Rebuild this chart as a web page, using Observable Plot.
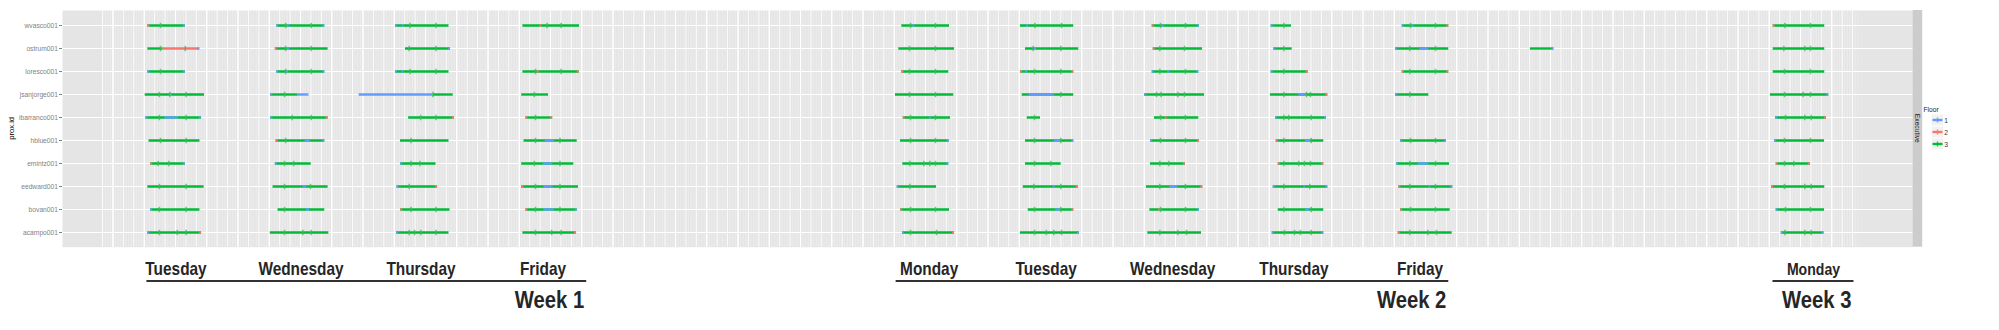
<!DOCTYPE html>
<html><head><meta charset="utf-8">
<script src="https://cdn.jsdelivr.net/npm/d3@7"></script>
<script src="https://cdn.jsdelivr.net/npm/@observablehq/plot@0.6"></script>
<style>body{margin:0;background:#fff;} svg{display:block;}</style>
</head><body><div id="chart"></div>
<script>
// ---------- data ----------
const people = ["wvasco001","ostrum001","loresco001","jsanjorge001","ibarranco001","hblue001","emintz001","eedward001","bovan001","acampo001"];
const floors = [1, 2, 3];
const floorColors = ["#619CFF", "#F8766D", "#00BA38"];
const facetLabel = "Executive";

// [id, day (2016-MM-DD), start hour, end hour, floor]
const segments = [
// Tue 31 May
["wvasco001","05-31",6.68,13.88,3],["wvasco001","05-31",6.68,7.08,2],["wvasco001","05-31",13.48,13.88,1],
["ostrum001","05-31",6.68,9.62,3],["ostrum001","05-31",9.62,16.61,2],["ostrum001","05-31",16.3,16.7,1],
["loresco001","05-31",6.68,13.88,3],["loresco001","05-31",6.68,7.08,1],["loresco001","05-31",13.48,13.88,1],
["jsanjorge001","05-31",6.18,17.57,3],["jsanjorge001","05-31",11.0,11.4,1],
["ibarranco001","05-31",6.32,17.0,3],["ibarranco001","05-31",6.32,6.72,1],["ibarranco001","05-31",9.93,12.58,1],["ibarranco001","05-31",16.6,17.0,1],
["hblue001","05-31",6.91,16.69,3],
["emintz001","05-31",7.2,13.88,3],["emintz001","05-31",7.2,7.6,2],["emintz001","05-31",13.48,13.88,1],
["eedward001","05-31",6.68,17.5,3],
["bovan001","05-31",7.2,16.69,3],["bovan001","05-31",7.2,7.6,1],
["acampo001","05-31",6.68,17.0,3],["acampo001","05-31",6.68,7.08,1],["acampo001","05-31",16.6,17.0,2],
// Wed 1 Jun
["wvasco001","06-01",7.45,16.66,3],["wvasco001","06-01",7.45,7.85,1],["wvasco001","06-01",9.46,9.86,1],["wvasco001","06-01",16.26,16.66,1],
["ostrum001","06-01",7.16,17.3,3],["ostrum001","06-01",7.16,7.56,2],["ostrum001","06-01",9.5,9.9,1],
["loresco001","06-01",7.45,16.66,3],["loresco001","06-01",7.45,7.85,1],["loresco001","06-01",9.3,9.7,1],["loresco001","06-01",16.26,16.66,1],
["jsanjorge001","06-01",6.28,11.42,3],["jsanjorge001","06-01",6.28,6.68,1],["jsanjorge001","06-01",11.42,13.63,1],
["ibarranco001","06-01",6.28,17.3,3],["ibarranco001","06-01",6.28,6.68,1],["ibarranco001","06-01",16.9,17.3,2],
["hblue001","06-01",7.3,16.66,3],["hblue001","06-01",7.3,7.7,2],["hblue001","06-01",12.88,13.92,1],["hblue001","06-01",16.26,16.66,1],
["emintz001","06-01",7.16,14.05,3],["emintz001","06-01",7.16,7.56,1],
["eedward001","06-01",6.72,17.3,3],["eedward001","06-01",12.44,13.19,1],
["bovan001","06-01",7.68,16.66,3],["bovan001","06-01",13.15,13.73,1],
["acampo001","06-01",6.2,17.44,3],
// Thu 2 Jun
["wvasco001","06-02",6.24,16.51,3],["wvasco001","06-02",6.24,6.64,1],["wvasco001","06-02",7.5,7.9,1],
["ostrum001","06-02",8.16,16.8,3],["ostrum001","06-02",16.4,16.8,1],
["loresco001","06-02",6.24,16.51,3],["loresco001","06-02",6.24,6.64,1],["loresco001","06-02",7.5,7.9,1],
["jsanjorge001","06-02",13.44,17.32,3],["jsanjorge001","06-02",-0.75,13.44,1],
["ibarranco001","06-02",8.76,17.55,3],["ibarranco001","06-02",17.15,17.55,2],
["hblue001","06-02",7.2,16.51,3],
["emintz001","06-02",7.2,14.02,3],["emintz001","06-02",7.2,7.6,1],
["eedward001","06-02",6.53,14.31,3],["eedward001","06-02",6.53,6.93,1],["eedward001","06-02",13.91,14.31,2],
["bovan001","06-02",7.2,16.7,3],["bovan001","06-02",7.2,7.6,2],
["acampo001","06-02",6.45,16.51,3],["acampo001","06-02",6.45,6.85,1],
// Fri 3 Jun
["wvasco001","06-03",6.7,17.57,3],["wvasco001","06-03",9.96,10.36,2],
["loresco001","06-03",6.7,17.51,3],["loresco001","06-03",9.44,9.84,2],["loresco001","06-03",17.11,17.51,2],
["jsanjorge001","06-03",6.47,11.62,3],
["ibarranco001","06-03",7.28,12.42,3],["ibarranco001","06-03",7.28,7.68,2],["ibarranco001","06-03",12.02,12.42,2],
["hblue001","06-03",6.91,17.13,3],["hblue001","06-03",10.96,12.73,1],
["emintz001","06-03",6.47,16.47,3],["emintz001","06-03",10.6,12.42,1],
["eedward001","06-03",6.47,17.38,3],["eedward001","06-03",6.47,6.87,2],["eedward001","06-03",10.73,12.5,1],
["bovan001","06-03",7.28,17.13,3],["bovan001","06-03",7.28,7.68,2],["bovan001","06-03",10.73,12.73,1],["bovan001","06-03",16.73,17.13,1],
["acampo001","06-03",6.7,17.0,3],["acampo001","06-03",16.6,17.0,2],
// Mon 6 Jun
["wvasco001","06-06",7.45,16.61,3],["wvasco001","06-06",9.55,9.95,1],
["ostrum001","06-06",6.87,17.57,3],
["loresco001","06-06",7.45,16.47,3],["loresco001","06-06",7.45,7.85,2],
["jsanjorge001","06-06",6.24,17.43,3],
["ibarranco001","06-06",7.72,16.8,3],["ibarranco001","06-06",7.72,8.12,2],["ibarranco001","06-06",12.77,13.1,1],
["hblue001","06-06",7.2,16.55,3],["hblue001","06-06",16.15,16.55,1],
["emintz001","06-06",7.64,16.47,3],["emintz001","06-06",16.07,16.47,1],
["eedward001","06-06",6.57,14.11,3],["eedward001","06-06",6.57,6.97,1],
["bovan001","06-06",7.2,16.61,3],["bovan001","06-06",7.2,7.6,2],
["acampo001","06-06",7.58,17.57,3],["acampo001","06-06",7.58,7.98,1],["acampo001","06-06",17.17,17.57,2],
// Tue 7 Jun
["wvasco001","06-07",6.24,16.47,3],["wvasco001","06-07",7.4,7.8,1],
["ostrum001","06-07",7.2,17.43,3],["ostrum001","06-07",8.93,9.31,1],
["loresco001","06-07",6.24,16.47,3],["loresco001","06-07",6.24,6.64,2],["loresco001","06-07",7.2,7.6,1],["loresco001","06-07",16.07,16.47,2],
["jsanjorge001","06-07",6.57,16.47,3],["jsanjorge001","06-07",7.83,12.77,1],
["ibarranco001","06-07",7.53,10.08,3],
["hblue001","06-07",7.2,16.47,3],["hblue001","06-07",12.77,13.92,1],["hblue001","06-07",16.07,16.47,1],
["emintz001","06-07",7.2,14.05,3],
["eedward001","06-07",6.76,17.32,3],["eedward001","06-07",12.58,12.96,1],["eedward001","06-07",16.92,17.32,2],
["bovan001","06-07",7.72,16.47,3],["bovan001","06-07",12.96,13.92,1],["bovan001","06-07",16.07,16.47,2],
["acampo001","06-07",6.24,17.57,3],["acampo001","06-07",17.17,17.57,1],
// Wed 8 Jun
["wvasco001","06-08",7.53,16.61,3],["wvasco001","06-08",7.53,7.93,2],["wvasco001","06-08",9.44,9.84,1],["wvasco001","06-08",16.21,16.61,1],
["ostrum001","06-08",7.72,17.18,3],["ostrum001","06-08",7.72,8.12,2],
["loresco001","06-08",7.53,16.47,3],["loresco001","06-08",7.53,7.93,1],["loresco001","06-08",10.51,10.91,1],["loresco001","06-08",16.07,16.47,1],
["jsanjorge001","06-08",6.05,17.57,3],["jsanjorge001","06-08",6.05,6.45,1],
["ibarranco001","06-08",7.97,16.47,3],["ibarranco001","06-08",10.01,10.41,2],
["hblue001","06-08",7.2,16.61,3],["hblue001","06-08",7.2,7.6,1],["hblue001","06-08",16.21,16.61,2],
["emintz001","06-08",7.2,13.92,3],["emintz001","06-08",13.52,13.92,2],
["eedward001","06-08",6.43,17.24,3],["eedward001","06-08",10.9,12.44,1],["eedward001","06-08",16.84,17.24,2],
["bovan001","06-08",7.07,16.61,3],["bovan001","06-08",8.79,9.19,2],["bovan001","06-08",16.21,16.61,1],
["acampo001","06-08",6.68,16.99,3],
// Thu 9 Jun
["wvasco001","06-09",6.37,10.27,3],["wvasco001","06-09",6.37,6.77,1],
["ostrum001","06-09",6.87,10.41,3],["ostrum001","06-09",6.87,7.27,1],
["loresco001","06-09",6.37,13.48,3],["loresco001","06-09",6.37,6.77,1],["loresco001","06-09",13.08,13.48,2],
["jsanjorge001","06-09",6.24,17.24,3],["jsanjorge001","06-09",11.67,13.09,1],["jsanjorge001","06-09",16.84,17.24,2],
["ibarranco001","06-09",7.2,16.99,3],["ibarranco001","06-09",7.2,7.6,1],["ibarranco001","06-09",16.59,16.99,1],
["hblue001","06-09",7.33,16.47,3],["hblue001","06-09",7.33,7.73,2],["hblue001","06-09",12.96,13.92,1],
["emintz001","06-09",7.72,16.47,3],["emintz001","06-09",7.72,8.12,2],["emintz001","06-09",16.07,16.47,2],
["eedward001","06-09",6.76,17.24,3],["eedward001","06-09",6.76,7.16,1],["eedward001","06-09",12.64,12.96,1],["eedward001","06-09",16.84,17.24,1],
["bovan001","06-09",7.72,16.47,3],["bovan001","06-09",12.96,13.79,1],
["acampo001","06-09",6.57,16.47,3],["acampo001","06-09",6.57,6.97,1],["acampo001","06-09",16.07,16.47,1],
// Fri 10 Jun
["wvasco001","06-10",7.53,16.47,3],["wvasco001","06-10",7.53,7.93,1],["wvasco001","06-10",9.44,9.84,1],["wvasco001","06-10",16.07,16.47,2],
["ostrum001","06-10",6.24,16.47,3],["ostrum001","06-10",6.24,6.64,1],["ostrum001","06-10",10.9,12.64,1],
["loresco001","06-10",7.53,16.47,3],["loresco001","06-10",7.53,7.93,2],["loresco001","06-10",16.07,16.47,2],
["jsanjorge001","06-10",6.24,12.64,3],["jsanjorge001","06-10",6.24,6.64,1],
["hblue001","06-10",7.2,16.03,3],["hblue001","06-10",7.2,7.6,1],["hblue001","06-10",15.63,16.03,1],
["emintz001","06-10",6.43,16.61,3],["emintz001","06-10",6.43,6.83,1],["emintz001","06-10",10.6,12.64,1],
["eedward001","06-10",6.87,17.24,3],["eedward001","06-10",6.87,7.27,2],["eedward001","06-10",12.64,13.0,1],["eedward001","06-10",16.84,17.24,1],
["bovan001","06-10",7.2,16.74,3],["bovan001","06-10",7.2,7.6,2],
["acampo001","06-10",6.76,17.12,3],["acampo001","06-10",6.76,7.16,2],
// Sat 11 Jun
["ostrum001","06-11",8.16,12.64,3],["ostrum001","06-11",12.24,12.64,1],
// Mon 13 Jun
["wvasco001","06-13",6.76,16.66,3],["wvasco001","06-13",6.76,7.16,2],
["ostrum001","06-13",6.76,16.66,3],
["loresco001","06-13",6.76,16.66,3],
["jsanjorge001","06-13",6.24,17.43,3],["jsanjorge001","06-13",17.03,17.43,1],
["ibarranco001","06-13",7.2,16.99,3],["ibarranco001","06-13",7.2,7.6,1],["ibarranco001","06-13",16.59,16.99,2],
["hblue001","06-13",7.01,16.61,3],["hblue001","06-13",7.01,7.41,1],
["emintz001","06-13",7.33,13.92,3],["emintz001","06-13",7.33,7.73,2],["emintz001","06-13",13.52,13.92,2],
["eedward001","06-13",6.43,16.66,3],["eedward001","06-13",6.43,6.83,2],
["bovan001","06-13",7.33,16.61,3],["bovan001","06-13",7.33,7.73,1],
["acampo001","06-13",8.32,16.51,3],["acampo001","06-13",8.32,8.72,1],["acampo001","06-13",16.11,16.51,1]
];

// [id, day, hours of point events]
const events = [
["wvasco001","05-31",[9.12]],["ostrum001","05-31",[9.12,13.88]],["loresco001","05-31",[9.12]],["jsanjorge001","05-31",[8.9,10.9,14.04]],["ibarranco001","05-31",[8.9,14.04]],["hblue001","05-31",[9.12,14.04]],["emintz001","05-31",[8.68,10.73]],["eedward001","05-31",[8.9,14.04]],["bovan001","05-31",[8.9,14.04]],["acampo001","05-31",[8.9,12.35,14.04]],
["wvasco001","06-01",[9.14,14.07]],["ostrum001","06-01",[9.14,14.07]],["loresco001","06-01",[9.14,14.07]],["jsanjorge001","06-01",[8.93]],["ibarranco001","06-01",[10.39,14.07]],["hblue001","06-01",[9.14]],["emintz001","06-01",[8.93,10.68]],["eedward001","06-01",[8.93,13.92]],["bovan001","06-01",[8.93]],["acampo001","06-01",[8.93,12.44,14.07]],
["wvasco001","06-02",[9.02,14.02]],["ostrum001","06-02",[8.87,14.02]],["loresco001","06-02",[9.02,14.02]],["jsanjorge001","06-02",[13.44]],["ibarranco001","06-02",[11.08,14.02]],["hblue001","06-02",[9.21]],["emintz001","06-02",[9.21,10.93]],["eedward001","06-02",[8.87]],["bovan001","06-02",[9.21,14.02]],["acampo001","06-02",[8.87,9.9,11.08,14.02]],
["wvasco001","06-03",[11.33,14.05]],["loresco001","06-03",[9.12,14.05]],["jsanjorge001","06-03",[8.9]],["ibarranco001","06-03",[9.12]],["hblue001","06-03",[9.12,13.82]],["emintz001","06-03",[8.9,13.82]],["eedward001","06-03",[9.12,13.82]],["bovan001","06-03",[9.12,13.82]],["acampo001","06-03",[9.12,12.21,14.05]],
["wvasco001","06-06",[9.12,13.92]],["ostrum001","06-06",[8.93,13.92]],["loresco001","06-06",[8.93,13.92]],["jsanjorge001","06-06",[8.93,13.92]],["ibarranco001","06-06",[9.12,13.92]],["hblue001","06-06",[9.12,13.92]],["emintz001","06-06",[8.99,11.67,12.83,13.92]],["eedward001","06-06",[8.99]],["bovan001","06-06",[9.12,13.92]],["acampo001","06-06",[9.12,14.11]],
["wvasco001","06-07",[8.99,14.11]],["ostrum001","06-07",[8.68,13.98]],["loresco001","06-07",[8.93,13.98]],["jsanjorge001","06-07",[13.98]],["ibarranco001","06-07",[8.93]],["hblue001","06-07",[8.93,13.98]],["emintz001","06-07",[8.93,12.06]],["eedward001","06-07",[8.8,13.98]],["bovan001","06-07",[8.93,13.98]],["acampo001","06-07",[8.93,11.2,12.64,14.11]],
["wvasco001","06-08",[9.12,13.92]],["ostrum001","06-08",[8.99,13.73]],["loresco001","06-08",[8.99,13.92]],["jsanjorge001","06-08",[8.35,9.25,12.44,13.73]],["ibarranco001","06-08",[9.12,13.92]],["hblue001","06-08",[9.12,13.92]],["emintz001","06-08",[8.99,10.71]],["eedward001","06-08",[8.99,13.92]],["bovan001","06-08",[9.12,13.92]],["acampo001","06-08",[8.99,12.44,14.11]],
["wvasco001","06-09",[8.8]],["ostrum001","06-09",[8.8]],["loresco001","06-09",[8.8]],["jsanjorge001","06-09",[8.8,13.15,13.92]],["ibarranco001","06-09",[8.8,9.75,14.05]],["hblue001","06-09",[8.8,14.05]],["emintz001","06-09",[8.8,11.67,12.77,13.92]],["eedward001","06-09",[8.8,13.79]],["bovan001","06-09",[8.8,14.05]],["acampo001","06-09",[8.93,10.85,12.0,14.05]],
["wvasco001","06-10",[9.12,13.92]],["ostrum001","06-10",[8.99,13.92]],["loresco001","06-10",[8.99,13.92]],["jsanjorge001","06-10",[8.99]],["hblue001","06-10",[9.12,13.92]],["emintz001","06-10",[8.99,13.92]],["eedward001","06-10",[8.99,13.92]],["bovan001","06-10",[9.12,13.92]],["acampo001","06-10",[8.99,12.44,14.11]],
["wvasco001","06-13",[8.99,13.92]],["ostrum001","06-13",[8.8,12.83,13.92]],["loresco001","06-13",[8.93,13.92]],["jsanjorge001","06-13",[8.93,12.51,13.92]],["ibarranco001","06-13",[9.12,12.83,14.05]],["hblue001","06-13",[8.93,13.92]],["emintz001","06-13",[8.93,10.71]],["eedward001","06-13",[8.93,12.83,14.05]],["bovan001","06-13",[9.12,13.92]],["acampo001","06-13",[8.99,12.83,14.05]]
];

// day annotations: [text, day, hour of centre, week]
const dayLabels = [
["Tuesday","05-31",12.19,1],["Wednesday","06-01",12.19,1],["Thursday","06-02",11.23,1],["Friday","06-03",10.66,1],
["Monday","06-06",12.8,2],["Tuesday","06-07",11.27,2],["Wednesday","06-08",11.56,2],["Thursday","06-09",10.83,2],["Friday","06-10",11.04,2],
["Monday","06-13",14.59,3]
];
// week annotations: [text, from day, from hour, to day, to hour]
const weekLabels = [
["Week 1","05-31",6.51,"06-03",18.95],
["Week 2","06-06",6.36,"06-10",16.47],
["Week 3","06-13",6.72,"06-13",22.27]
];
const xDomainBounds = [["05-30",14.3],["06-14",9.64]];
const gridBounds = [["05-30",21.9],["06-13",23.2]];

// ---------- helpers ----------
const at = (day, h) => new Date(Date.parse(`2016-${day}T00:00:00Z`) + h * 3600e3);
const segData = segments
  .map(([id, day, s, e, floor]) => ({id, floor, x1: at(day, s), x2: at(day, e)}))
  .sort((a, b) => (a.floor === 3 ? 0 : 1) - (b.floor === 3 ? 0 : 1));
const eventData = events.flatMap(([id, day, ts]) => ts.map(t => ({id, x: at(day, t)})));
const g0 = at(...gridBounds[0]), g1 = at(...gridBounds[1]);
const gridMinor = d3.utcMinute.every(30).range(g0, g1);
const gridMajor = d3.utcHour.every(2).range(g0, g1);
const gridStrong = d3.utcHour.every(6).range(g0, g1);

const vbar = {draw(ctx, size) { const r = Math.sqrt(size / Math.PI); ctx.moveTo(0, -r); ctx.lineTo(0, r); }};

const W = 1999, H = 330, ML = 62, MR = 86.3, MT = 10, MB = 83.3;
const font = "'Liberation Sans', Arial, Helvetica, sans-serif";

const plot = Plot.plot({
  width: W, height: H,
  marginLeft: ML, marginRight: MR, marginTop: MT, marginBottom: MB,
  style: {fontFamily: font, background: "#fff", overflow: "visible"},
  x: {type: "utc", domain: xDomainBounds.map(d => at(...d)), axis: null},
  y: {type: "point", domain: people, padding: 0.6, axis: null},
  color: {type: "ordinal", domain: floors, range: floorColors},
  marks: [
    Plot.frame({fill: "#E5E5E5", stroke: null}),
    Plot.ruleX(gridMinor, {stroke: "#F2F2F2", strokeWidth: 0.5}),
    Plot.ruleX(gridMajor, {stroke: "#FFFFFF", strokeWidth: 0.8}),
    Plot.ruleX(gridStrong, {stroke: "#FFFFFF", strokeWidth: 1.2}),
    Plot.ruleY(people, {stroke: "#FFFFFF", strokeWidth: 1.1}),
    Plot.axisY({tickSize: 3, tickPadding: 1.5, fontSize: 6.7, color: "#7F7F7F", label: null}),
    Plot.ruleY(segData, {y: "id", x1: "x1", x2: "x2", stroke: "floor", strokeWidth: 2.4}),
    Plot.dot(eventData, {x: "x", y: "id", symbol: vbar, r: 2.7, stroke: "#3DBB55", strokeWidth: 1.6, strokeOpacity: 0.75})
  ]
});
document.getElementById("chart").appendChild(plot);

// ---------- annotations through the plot's own x scale ----------
const xs = plot.scale("x");
const svg = d3.select(plot);
const panelBottom = H - MB, panelRight = W - MR;

// facet strip
svg.append("rect").attr("x", panelRight).attr("y", MT).attr("width", 9.5).attr("height", panelBottom - MT).attr("fill", "#CCCCCC");
svg.append("text").attr("transform", `translate(${panelRight + 4.8},${(MT + panelBottom) / 2}) rotate(90)`)
  .attr("text-anchor", "middle").attr("dominant-baseline", "central")
  .attr("font-family", font).attr("font-size", 6.7).attr("fill", "#1A1A1A").text(facetLabel);

// y title
svg.append("text").attr("transform", `translate(11,${(MT + panelBottom) / 2}) rotate(-90)`)
  .attr("text-anchor", "middle").attr("dominant-baseline", "central")
  .attr("font-family", font).attr("font-size", 7.6).attr("fill", "#000").text("prox.id");

// legend
const lg = svg.append("g").attr("font-family", font);
lg.append("text").attr("x", 1931).attr("y", 111.5).attr("font-size", 6.7).attr("fill", "#1A1A1A").text("Floor");
floors.forEach((f, i) => {
  const cy = 120 + i * 12;
  lg.append("rect").attr("x", 1931.5).attr("y", cy - 5.8).attr("width", 12).attr("height", 11.6).attr("fill", "#F2F2F2").attr("stroke", "#fff").attr("stroke-width", 0.5);
  lg.append("line").attr("x1", 1932.5).attr("x2", 1942.5).attr("y1", cy).attr("y2", cy).attr("stroke", floorColors[i]).attr("stroke-width", 2.4);
  lg.append("line").attr("x1", 1937.5).attr("x2", 1937.5).attr("y1", cy - 2.7).attr("y2", cy + 2.7).attr("stroke", floorColors[i]).attr("stroke-width", 1.4).attr("stroke-opacity", 0.75);
  lg.append("text").attr("x", 1946).attr("y", cy).attr("dominant-baseline", "central").attr("font-size", 6.7).attr("fill", "#333").text(f);
});

// day + week labels
const ann = svg.append("g").attr("font-family", font).attr("font-weight", "bold").attr("fill", "#262626");
dayLabels.forEach(([t, day, h, wk]) => {
  const x = xs.apply(at(day, h));
  ann.append("text").attr("transform", `translate(${x},275) scale(0.88,1)`).attr("text-anchor", "middle")
    .attr("font-size", wk === 3 ? 16 : 17.5).text(t);
});
weekLabels.forEach(([t, d0, h0, d1, h1]) => {
  const x0 = xs.apply(at(d0, h0)), x1 = xs.apply(at(d1, h1));
  ann.append("line").attr("x1", x0).attr("x2", x1).attr("y1", 281).attr("y2", 281).attr("stroke", "#333").attr("stroke-width", 2);
  ann.append("text").attr("transform", `translate(${x1 - 2},308) scale(0.88,1)`).attr("text-anchor", "end")
    .attr("font-size", 23).text(t);
});
</script>
</body></html>
